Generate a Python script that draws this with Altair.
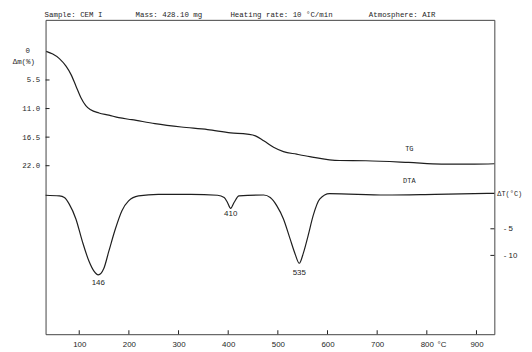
import altair as alt
import pandas as pd

# ---------------- data ----------------
# TG curve: temperature (°C) vs mass loss Δm (%)
tg_T = [33.6, 46.7, 60.0, 73.4, 83.3, 93.3, 103.2, 113.2, 123.1, 139.8, 159.7,
        179.6, 206.0, 252.5, 305.5, 358.6, 405.0, 438.3, 454.8, 471.5, 491.4,
        511.3, 537.8, 564.3, 624.0, 677.2, 763.4, 829.7, 896.0, 936.0]
tg_m = [0.0, 0.51, 1.38, 2.85, 4.42, 6.64, 8.86, 10.43, 11.25, 11.85, 12.27,
        12.76, 13.14, 13.90, 14.55, 15.04, 15.68, 15.93, 16.25, 17.20, 18.45,
        19.29, 19.78, 20.24, 21.0, 21.05, 21.37, 21.68, 21.68, 21.62]

# DTA curve: temperature (°C) vs ΔT (°C)
dta_T = [32.2, 60.0, 70.0, 79.9, 93.3, 106.4, 119.7, 129.7, 138.3, 149.7, 159.5,
         172.9, 186.0, 199.4, 219.4, 259.1, 324.8, 378.6, 391.9, 398.5, 405.0,
         411.8, 421.8, 471.5, 484.7, 498.0, 511.3, 524.5, 534.4, 543.2, 551.2,
         561.1, 571.1, 584.2, 604.1, 717.0, 816.5, 936.0]
dta_dT = [1.30, 1.17, 0.87, -0.37, -3.15, -7.41, -11.11, -12.96, -13.65, -12.41,
          -9.26, -5.0, -1.61, 0.24, 1.17, 1.48, 1.48, 1.30, 0.87, -0.06, -1.17,
          -0.06, 1.17, 1.35, 0.87, -0.69, -3.15, -6.85, -9.63, -11.48, -9.63,
          -6.24, -2.54, 0.56, 1.61, 1.35, 1.48, 1.67]

# DTA peak annotations
peak_labels = ["146", "410", "535"]
peak_T = [138.3, 405.0, 543.2]
peak_label_dT = [-15.2, -2.2, -13.4]

# axis tick values
x_ticks = [100, 200, 300, 400, 500, 600, 700, 800, 900]
tg_ticks = [5.5, 11.0, 16.5, 22.0]
dta_ticks = [-5, -10]

header = ["Sample: CEM I", "Mass: 428.10 mg", "Heating rate: 10 °C/min", "Atmosphere: AIR"]

# ---------------- layout / style ----------------
W, H = 454, 318
INK = "#1e1e1e"
MONO = "Liberation Mono"
SANS = "Liberation Sans"

xscale = alt.Scale(domain=[32.2, 936], nice=False, zero=False)
tg_scale = alt.Scale(domain=[-6.07, 54.43], nice=False, zero=False, reverse=True)
dta_scale = alt.Scale(domain=[-24.81, 34.26], nice=False, zero=False)

tg_df = pd.DataFrame({"T": tg_T, "m": tg_m})
dta_df = pd.DataFrame({"T": dta_T, "dT": dta_dT})
peak_df = pd.DataFrame({"T": peak_T, "dT": peak_label_dT, "label": peak_labels})

x_axis = alt.Axis(values=x_ticks, format="d", ticks=False, domain=False,
                  grid=False, labelFont=SANS, labelFontSize=8, labelColor=INK,
                  labelPadding=6, title=None)
tg_axis = alt.Axis(orient="left", values=tg_ticks, format=".1f", ticks=False,
                   domain=False, grid=False, labelFont=MONO,
                   labelFontSize=7.5, labelColor=INK, labelPadding=6, title=None)
dta_axis = alt.Axis(orient="right", values=dta_ticks,
                    labelExpr="'-  ' + abs(datum.value)", ticks=False,
                    domain=False, grid=False, labelFont=SANS, labelFontSize=8,
                    labelColor=INK, labelPadding=9, labelAlign="left", title=None)

X = lambda: alt.X("T:Q", scale=xscale, axis=x_axis)
YTG = lambda: alt.Y("m:Q", scale=tg_scale, axis=tg_axis)
YDTA = lambda: alt.Y("dT:Q", scale=dta_scale, axis=dta_axis)

# ---------- TG group (left scale) ----------
tg_line = alt.Chart(tg_df).mark_line(color=INK, strokeWidth=1.2, interpolate="monotone").encode(
    x=X(), y=YTG())
tg_tick_rules = alt.Chart(pd.DataFrame({"m": tg_ticks})).mark_rule(color=INK, strokeWidth=1).encode(
    y=YTG(), x=alt.value(0), x2=alt.value(4))
x_tick_rules = alt.Chart(pd.DataFrame({"T": x_ticks})).mark_rule(color=INK, strokeWidth=1).encode(
    x=X(), y=alt.value(H - 4), y2=alt.value(H))
tg_zero = alt.Chart(pd.DataFrame({"m": [0.0], "t": ["0"]})).mark_text(
    font=MONO, fontSize=7.5, color=INK, align="center", baseline="middle").encode(
    y=YTG(), x=alt.value(-18), text="t:N")
tg_title = alt.Chart(pd.DataFrame({"m": [2.0], "t": ["Δm(%)"]})).mark_text(
    font=MONO, fontSize=7.5, color=INK, align="center", baseline="middle").encode(
    y=YTG(), x=alt.value(-22), text="t:N")
tg_name = alt.Chart(pd.DataFrame({"T": [764.8], "m": [18.78], "t": ["TG"]})).mark_text(
    font=MONO, fontSize=7, color=INK, align="center", baseline="middle").encode(
    x=X(), y=YTG(), text="t:N")
unit_x = alt.Chart(pd.DataFrame({"T": [830.5], "t": ["°C"]})).mark_text(
    font=SANS, fontSize=8, color=INK, align="center", baseline="top", dy=7).encode(
    x=X(), y=alt.value(H), text="t:N")

head_x = [-1, 91, 187, 327]
heads = [
    alt.Chart(alt.Data(values=[{"t": s}])).mark_text(
        font=MONO, fontSize=7.5, color=INK, align="left", baseline="middle").encode(
        x=alt.value(px), y=alt.value(-5), text="t:N")
    for s, px in zip(header, head_x)
]

tg_group = alt.layer(tg_line, tg_tick_rules, x_tick_rules, tg_zero, tg_title, tg_name,
                     unit_x, *heads)

# ---------- DTA group (right scale) ----------
dta_line = alt.Chart(dta_df).mark_line(color=INK, strokeWidth=1.2, interpolate="monotone").encode(
    x=X(), y=YDTA())
dta_tick_rules = alt.Chart(pd.DataFrame({"dT": dta_ticks})).mark_rule(color=INK, strokeWidth=1).encode(
    y=YDTA(), x=alt.value(W - 4), x2=alt.value(W))
peak_text = alt.Chart(peak_df).mark_text(
    font=SANS, fontSize=8, color=INK, align="center", baseline="middle").encode(
    x=X(), y=YDTA(), text="label:N")
dta_name = alt.Chart(pd.DataFrame({"T": [764.8], "dT": [3.98], "t": ["DTA"]})).mark_text(
    font=MONO, fontSize=7, color=INK, align="center", baseline="middle").encode(
    x=X(), y=YDTA(), text="t:N")
dta_title = alt.Chart(pd.DataFrame({"dT": [1.5], "t": ["ΔT(°C)"]})).mark_text(
    font=MONO, fontSize=7, color=INK, align="left", baseline="middle").encode(
    y=YDTA(), x=alt.value(W + 3), text="t:N")

dta_group = alt.layer(dta_line, dta_tick_rules, peak_text, dta_name, dta_title)

chart = alt.layer(tg_group, dta_group).resolve_scale(y="independent").properties(
    width=W, height=H,
    padding={"left": 38, "top": 10, "right": 30, "bottom": 16},
    autosize=alt.AutoSizeParams(type="none"),
    background="white",
).configure_view(stroke="#444444", strokeWidth=1)

chart.save("out.html", embed_options={"renderer": "svg", "actions": False})
